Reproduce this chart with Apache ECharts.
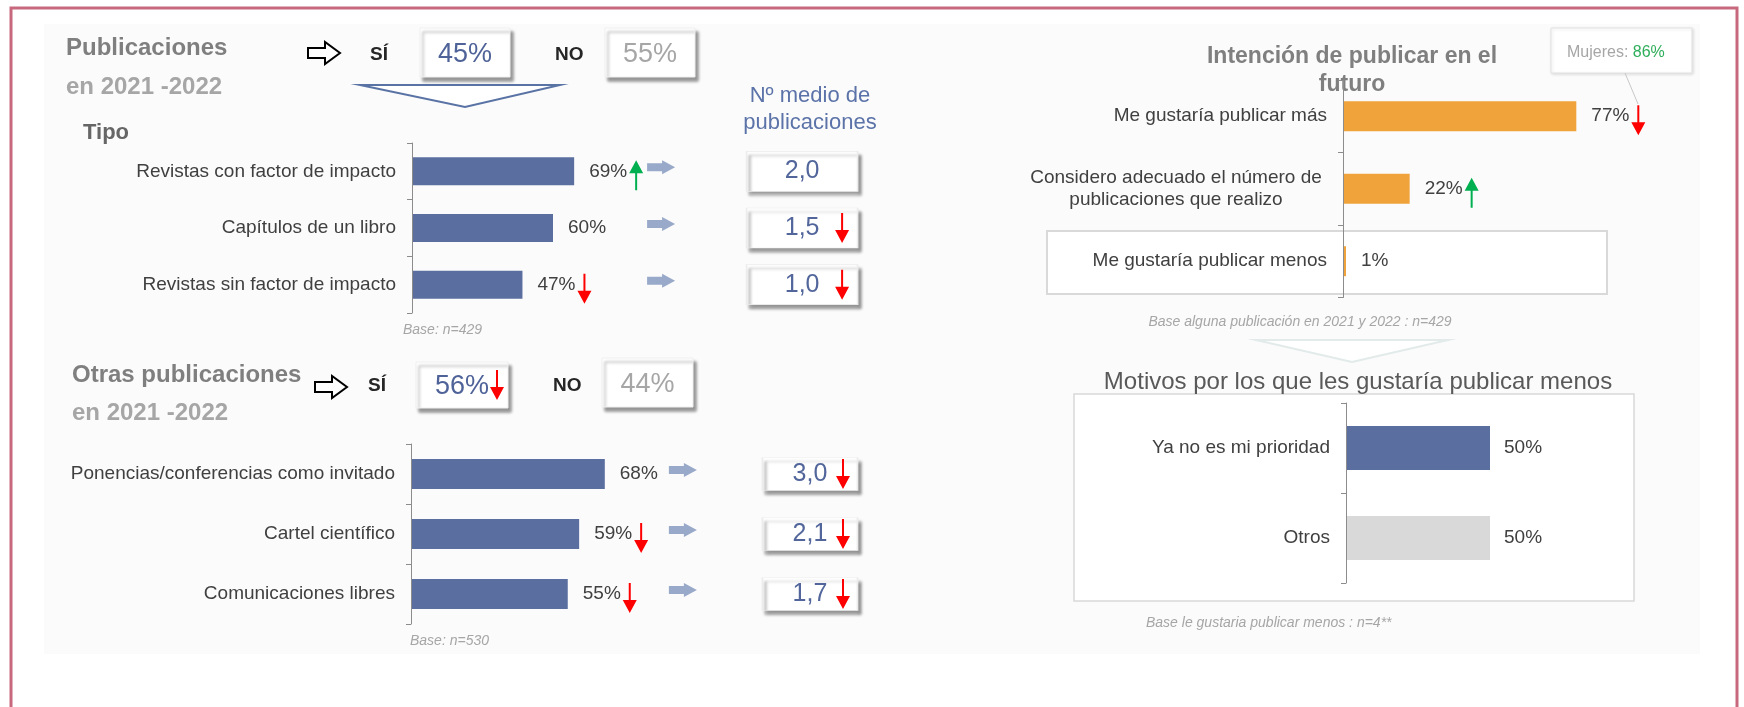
<!DOCTYPE html>
<html>
<head>
<meta charset="utf-8">
<script src="https://cdn.jsdelivr.net/npm/echarts@6/dist/echarts.min.js"></script>
<style>
  html, body { margin: 0; padding: 0; background: #fff; }
  #chart { width: 1744px; height: 707px; }
</style>
</head>
<body>
<div id="chart"></div>
<script>
// --- datos ---
const tipoCats = ['Revistas con factor de impacto', 'Capítulos de un libro', 'Revistas sin factor de impacto']
const tipoValues = [69, 60, 47]
const tipoTrend = ['up', '', 'down']
const tipoMedia = [2.0, 1.5, 1.0]
const tipoMediaTrend = ['', 'down', 'down']

const otrasCats = ['Ponencias/conferencias como invitado', 'Cartel científico', 'Comunicaciones libres']
const otrasValues = [68, 59, 55]
const otrasTrend = ['', 'down', 'down']
const otrasMedia = [3.0, 2.1, 1.7]
const otrasMediaTrend = ['down', 'down', 'down']

const intencionCats = ['Me gustaría publicar más', 'Considero adecuado el número de\npublicaciones que realizo', 'Me gustaría publicar menos']
const intencionValues = [77, 22, 1]
const intencionTrend = ['down', 'up', '']

const motivosCats = ['Ya no es mi prioridad', 'Otros']
const motivosValues = [50, 50]

const publicaSi = 45
const publicaNo = 55
const otrasSi = 56
const otrasNo = 44
const mujeres = 86

// --- estilos ---
const FONT = '"Liberation Sans", Arial, sans-serif'
const BLUE = '#5a6e9f'
const ORANGE = '#f0a33b'
const RED = '#ff0000'
const GREEN = '#00b050'
const TXT = '#404040'

const DOWN = 'path://M6,0 L8,0 L8,17 L14,17 L7,30 L0,17 L6,17 Z'
const UP = 'path://M7,0 L14,13 L8,13 L8,30 L6,30 L6,13 L0,13 Z'
const BLOCK = 'path://M0,3 L15,3 L15,0 L28,7 L15,14 L15,11 L0,11 Z'

const chart = echarts.init(document.getElementById('chart'))

function fmtMedia(v) {
  return v.toFixed(1).replace('.', ',')
}

function yAxisFor(gridIndex, cats) {
  return {
    type: 'category',
    gridIndex,
    data: cats,
    inverse: true,
    z: 4,
    axisLine: { show: true, lineStyle: { color: '#8c8c8c', width: 1 } },
    axisTick: { show: true, length: 5, lineStyle: { color: '#8c8c8c' } },
    axisLabel: {
      margin: 16,
      fontFamily: FONT,
      fontSize: 19,
      color: TXT,
      formatter: (v) => v.includes('\n') ? v.split('\n').map((l) => '{c|' + l + '}').join('\n') : v,
      rich: { c: { width: 302, align: 'center', fontFamily: FONT, fontSize: 19, color: TXT, lineHeight: 22 } },
    },
  }
}

function xAxisFor(gridIndex, max) {
  return { type: 'value', gridIndex, min: 0, max, show: false }
}

function barSeries(i, values, color, width) {
  return {
    type: 'bar',
    xAxisIndex: i,
    yAxisIndex: i,
    data: values,
    barWidth: width,
    z: 3,
    itemStyle: { color },
    label: {
      show: true,
      position: 'right',
      distance: 15,
      fontFamily: FONT,
      fontSize: 19,
      color: TXT,
      formatter: (p) => p.value + '%',
    },
  }
}

function trendSeries(i, trend, values, offset) {
  const data = []
  trend.forEach((t, k) => {
    if (!t) return
    data.push({
      value: [values[k], k],
      symbol: t === 'up' ? UP : DOWN,
      itemStyle: { color: t === 'up' ? GREEN : RED, opacity: 1 },
    })
  })
  return {
    type: 'scatter',
    xAxisIndex: i,
    yAxisIndex: i,
    symbolSize: [14, 30],
    symbolOffset: offset,
    z: 6,
    data,
  }
}

function blockArrows(i, n, x) {
  return {
    type: 'scatter',
    xAxisIndex: i,
    yAxisIndex: i,
    symbol: BLOCK,
    symbolSize: [28, 14],
    symbolOffset: [0, -4],
    z: 3,
    itemStyle: { color: '#98a9c9', opacity: 1 },
    data: Array.from({ length: n }, (_, k) => [x, k]),
  }
}

function mediaBoxes(i, medias, x, size) {
  return {
    type: 'scatter',
    xAxisIndex: i,
    yAxisIndex: i,
    symbol: 'rect',
    symbolSize: size,
    z: 3,
    itemStyle: {
      color: '#ffffff',
      opacity: 1,
      borderColor: '#ececec',
      borderWidth: 1,
      shadowColor: 'rgba(0,0,0,0.4)',
      shadowBlur: 3,
      shadowOffsetX: 3,
      shadowOffsetY: 4,
    },
    label: {
      show: true,
      position: 'inside',
      fontFamily: FONT,
      fontSize: 25,
      color: '#52669b',
      formatter: (p) => fmtMedia(medias[p.dataIndex]),
    },
    data: medias.map((m, k) => [x, k]),
  }
}

function valueBox(x, y, w, h, text, color, fontSize) {
  return [
    {
      type: 'rect', z: 1,
      shape: { x, y, width: w, height: h },
      style: { fill: '#fff', stroke: '#efefef', lineWidth: 1, shadowColor: 'rgba(0,0,0,0.4)', shadowBlur: 3, shadowOffsetX: 3, shadowOffsetY: 4 },
    },
    {
      type: 'text', z: 2, x: x + w / 2, y: y + h / 2 + 2,
      style: { text, fill: color, font: fontSize + 'px ' + FONT, textAlign: 'center', textVerticalAlign: 'middle' },
    },
  ]
}

function hollowArrow(x, y) {
  return {
    type: 'polygon', z: 2,
    shape: { points: [[x, y - 5], [x + 17, y - 5], [x + 17, y - 11], [x + 32, y], [x + 17, y + 11], [x + 17, y + 5], [x, y + 5]] },
    style: { fill: '#fff', stroke: '#000', lineWidth: 2 },
  }
}

function redDown(x, y) {
  const pts = [[6, 0], [8, 0], [8, 17], [14, 17], [7, 30], [0, 17], [6, 17]]
  return {
    type: 'polygon', z: 3,
    shape: { points: pts.map(([a, b]) => [x + a, y + b]) },
    style: { fill: RED },
  }
}

function txt(x, y, text, font, color, align) {
  return {
    type: 'text', z: 2, x, y,
    style: { text, font, fill: color, textAlign: align || 'left', textVerticalAlign: 'middle' },
  }
}

const bold24 = 'bold 24px ' + FONT
const italic14 = 'italic 14px ' + FONT

const graphic = [
  { type: 'rect', z: 0, shape: { x: 44, y: 24, width: 1656, height: 630 }, style: { fill: '#fbfbfb' } },
  { type: 'rect', z: 0, shape: { x: 11, y: 8, width: 1726, height: 730 }, style: { fill: 'none', stroke: '#c8687f', lineWidth: 3 } },

  // bloque izquierdo superior
  txt(66, 48, 'Publicaciones', bold24, '#7f7f7f'),
  txt(66, 87, 'en 2021 -2022', bold24, '#a6a6a6'),
  hollowArrow(308, 53),
  txt(370, 55, 'SÍ', 'bold 19px ' + FONT, '#262626'),
  ...valueBox(420, 28, 90, 49, publicaSi + '%', '#4f6399', 27),
  txt(555, 55, 'NO', 'bold 19px ' + FONT, '#262626'),
  ...valueBox(605, 28, 90, 49, publicaNo + '%', '#a6a6a6', 27),
  {
    type: 'polygon', z: 2,
    shape: { points: [[360, 85], [560, 85], [465, 107]] },
    style: { fill: '#fff', stroke: '#5a73a5', lineWidth: 2 },
  },
  txt(810, 96, 'Nº medio de', '22px ' + FONT, '#5b73a8', 'center'),
  txt(810, 123, 'publicaciones', '22px ' + FONT, '#5b73a8', 'center'),
  txt(83, 133, 'Tipo', 'bold 22px ' + FONT, '#666666'),
  txt(403, 330, 'Base: n=429', italic14, '#a6a6a6'),

  // bloque izquierdo inferior
  txt(72, 375, 'Otras publicaciones', bold24, '#7f7f7f'),
  txt(72, 413, 'en 2021 -2022', bold24, '#a6a6a6'),
  hollowArrow(315, 387),
  txt(368, 386, 'SÍ', 'bold 19px ' + FONT, '#262626'),
  ...valueBox(416, 362, 92, 46, otrasSi + '%', '#4f6399', 27),
  redDown(490, 370),
  txt(553, 386, 'NO', 'bold 19px ' + FONT, '#262626'),
  ...valueBox(602, 358, 91, 49, otrasNo + '%', '#a6a6a6', 27),
  txt(410, 641, 'Base: n=530', italic14, '#a6a6a6'),

  // bloque derecho
  txt(1352, 57, 'Intención de publicar en el', 'bold 23px ' + FONT, '#7f7f7f', 'center'),
  txt(1352, 85, 'futuro', 'bold 23px ' + FONT, '#7f7f7f', 'center'),
  {
    type: 'rect', z: 1,
    shape: { x: 1551, y: 28, width: 141, height: 45 },
    style: { fill: '#fff', stroke: '#e3e3e3', lineWidth: 1, shadowColor: 'rgba(0,0,0,0.12)', shadowBlur: 3, shadowOffsetX: 1, shadowOffsetY: 1 },
  },
  {
    type: 'text', z: 2, x: 1567, y: 53,
    style: {
      text: '{g|Mujeres: }{v|' + mujeres + '%}',
      textVerticalAlign: 'middle',
      rich: {
        g: { font: '16px ' + FONT, fill: '#a6a6a6' },
        v: { font: '16px ' + FONT, fill: '#2eae5a' },
      },
    },
  },
  { type: 'line', z: 2, shape: { x1: 1625, y1: 73, x2: 1638, y2: 104 }, style: { stroke: '#c8c8c8', lineWidth: 1 } },
  {
    type: 'rect', z: 1,
    shape: { x: 1047, y: 231, width: 560, height: 63 },
    style: { fill: '#fff', stroke: '#d9d9d9', lineWidth: 2 },
  },
  txt(1300, 322, 'Base alguna publicación en 2021 y 2022 : n=429', italic14, '#a6a6a6', 'center'),
  {
    type: 'polygon', z: 1,
    shape: { points: [[1256, 340], [1448, 340], [1352, 362]] },
    style: { fill: '#fff', stroke: '#e2eaea', lineWidth: 2 },
  },
  txt(1358, 382, 'Motivos por los que les gustaría publicar menos', '24px ' + FONT, '#595959', 'center'),
  {
    type: 'rect', z: 1,
    shape: { x: 1074, y: 394, width: 560, height: 207 },
    style: { fill: '#fff', stroke: '#d9d9d9', lineWidth: 1.5 },
  },
  txt(1146, 623, 'Base le gustaria publicar menos : n=4**', italic14, '#a6a6a6'),
]

const option = {
  animation: false,
  backgroundColor: '#ffffff',
  grid: [
    { left: 412, top: 143, width: 190 * 2.35, height: 170, outerBoundsMode: 'none' },
    { left: 411, top: 444, width: 157 * 2.85, height: 180, outerBoundsMode: 'none' },
    { left: 1343, top: 80, width: 303, height: 217.5, outerBoundsMode: 'none' },
    { left: 1346, top: 403, width: 288, height: 180, outerBoundsMode: 'none' },
  ],
  xAxis: [xAxisFor(0, 190), xAxisFor(1, 157), xAxisFor(2, 100), xAxisFor(3, 100)],
  yAxis: [yAxisFor(0, tipoCats), yAxisFor(1, otrasCats), yAxisFor(2, intencionCats), yAxisFor(3, motivosCats)],
  graphic: { elements: graphic },
  series: [
    barSeries(0, tipoValues, BLUE, 28),
    trendSeries(0, tipoTrend, tipoValues, [62, 4]),
    blockArrows(0, tipoCats.length, 106),
    mediaBoxes(0, tipoMedia, 166, [111, 40]),
    trendSeries(0, tipoMediaTrend, tipoMedia.map(() => 166), [40, 0]),

    barSeries(1, otrasValues, BLUE, 30),
    trendSeries(1, otrasTrend, otrasValues, [62, 4]),
    blockArrows(1, otrasCats.length, 95.4),
    mediaBoxes(1, otrasMedia, 140, [95, 33]),
    trendSeries(1, otrasMediaTrend, otrasMedia.map(() => 140), [33, 0]),

    barSeries(2, intencionValues, ORANGE, 30),
    trendSeries(2, intencionTrend, intencionValues, [62, 4]),

    {
      type: 'bar',
      xAxisIndex: 3,
      yAxisIndex: 3,
      barWidth: 44,
      z: 3,
      data: motivosValues.map((v, k) => ({ value: v, itemStyle: { color: k === 0 ? BLUE : '#d9d9d9' } })),
      label: {
        show: true, position: 'right', distance: 14,
        fontFamily: FONT, fontSize: 19, color: TXT,
        formatter: (p) => p.value + '%',
      },
    },
  ],
}

chart.setOption(option)
</script>
</body>
</html>
